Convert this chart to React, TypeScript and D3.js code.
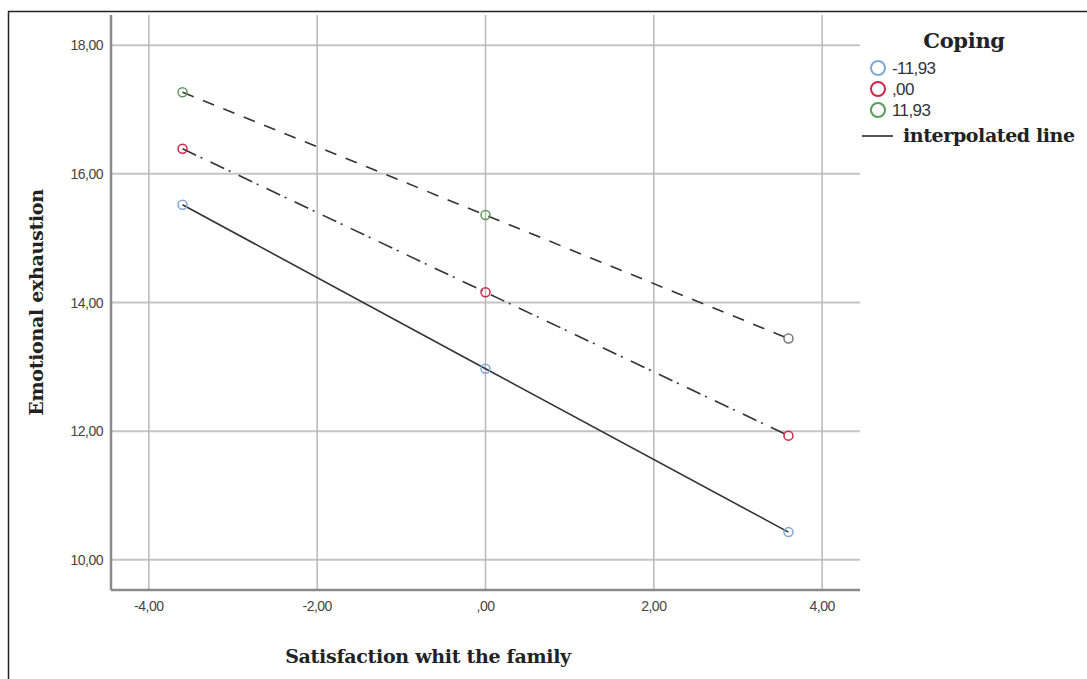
import React, { useEffect, useRef } from 'react';
import * as d3 from 'd3';

interface Series {
  label: string;
  color: string;
  dash: string;
  values: number[];
}

const xPoints = [-3.6, 0, 3.6];
const lowCoping = [15.52, 12.97, 10.43];
const meanCoping = [16.39, 14.16, 11.93];
const highCoping = [17.27, 15.36, 13.44];
const copingLabels = ['-11,93', ',00', '11,93'];
const copingColors = ['#7fa8d8', '#d0264a', '#5a9a5a'];
const xTicks = [-4, -2, 0, 2, 4];
const yTicks = [10, 12, 14, 16, 18];

const series: Series[] = [
  { label: copingLabels[0], color: copingColors[0], dash: '', values: lowCoping },
  { label: copingLabels[1], color: copingColors[1], dash: '15,5,2,9', values: meanCoping },
  { label: copingLabels[2], color: copingColors[2], dash: '12,10', values: highCoping },
];

const fmt = (v: number) => {
  if (v === 0) return ',00';
  return v.toFixed(2).replace('.', ',');
};

const SERIF = '"DejaVu Serif", "Liberation Serif", serif';
const SANS = 'Arial, "Liberation Sans", sans-serif';

export default function App() {
  const svgRef = useRef<SVGSVGElement>(null);

  useEffect(() => {
    if (!svgRef.current) return;
    const W = 1087, H = 679;
    const left = 111, right = 860, top = 15, bottom = 590;

    d3.select(svgRef.current).selectAll('*').remove();
    const svg = d3.select(svgRef.current).attr('width', W).attr('height', H);

    svg.append('rect').attr('width', W).attr('height', H).attr('fill', '#fff');

    // frame
    svg.append('line').attr('x1', 8).attr('x2', W).attr('y1', 11.5).attr('y2', 11.5)
      .attr('stroke', '#222').attr('stroke-width', 1.5);
    svg.append('line').attr('x1', 8.5).attr('x2', 8.5).attr('y1', 11).attr('y2', H)
      .attr('stroke', '#222').attr('stroke-width', 1.5);

    const x = d3.scaleLinear().domain([-4.45, 4.45]).range([left, right]);
    const y = d3.scaleLinear().domain([9.53, 18.47]).range([bottom, top]);

    // grid
    svg.append('g').selectAll('line').data(yTicks).enter().append('line')
      .attr('x1', left).attr('x2', right)
      .attr('y1', d => y(d)).attr('y2', d => y(d))
      .attr('stroke', '#c4c4c4').attr('stroke-width', 2);
    svg.append('g').selectAll('line').data(xTicks).enter().append('line')
      .attr('x1', d => x(d)).attr('x2', d => x(d))
      .attr('y1', top).attr('y2', bottom)
      .attr('stroke', '#b8b8b8').attr('stroke-width', 1.5);

    // axes
    svg.append('line').attr('x1', left).attr('x2', left).attr('y1', top).attr('y2', bottom)
      .attr('stroke', '#8a8a8a').attr('stroke-width', 2.5);
    svg.append('line').attr('x1', left).attr('x2', right).attr('y1', bottom).attr('y2', bottom)
      .attr('stroke', '#8a8a8a').attr('stroke-width', 2.5);

    // tick labels
    svg.append('g').selectAll('text').data(yTicks).enter().append('text')
      .attr('x', 103).attr('y', d => y(d) + 5)
      .attr('text-anchor', 'end')
      .attr('font-family', SANS)
      .attr('font-size', 14).attr('fill', '#444').attr('letter-spacing', -0.5)
      .text(d => fmt(d));
    svg.append('g').selectAll('text').data(xTicks).enter().append('text')
      .attr('x', d => x(d)).attr('y', bottom + 21)
      .attr('text-anchor', 'middle')
      .attr('font-family', SANS)
      .attr('font-size', 14).attr('fill', '#444').attr('letter-spacing', -0.5)
      .text(d => fmt(d));

    // axis titles
    svg.append('text')
      .attr('transform', `translate(43,${(top + bottom) / 2}) rotate(-90)`)
      .attr('text-anchor', 'middle')
      .attr('font-family', SERIF)
      .attr('font-weight', 'bold').attr('font-size', 19).attr('fill', '#222')
      .attr('letter-spacing', -0.3)
      .text('Emotional exhaustion');
    svg.append('text')
      .attr('x', 428).attr('y', 663)
      .attr('text-anchor', 'middle')
      .attr('font-family', SERIF)
      .attr('font-weight', 'bold').attr('font-size', 19).attr('fill', '#222')
      .attr('letter-spacing', -0.3)
      .text('Satisfaction whit the family');

    // lines
    const line = d3.line<[number, number]>().x(d => x(d[0])).y(d => y(d[1]));
    series.forEach(s => {
      const pts = xPoints.map((xv, i) => [xv, s.values[i]] as [number, number]);
      svg.append('path')
        .datum(pts)
        .attr('fill', 'none')
        .attr('stroke', '#333')
        .attr('stroke-width', 1.6)
        .attr('stroke-dasharray', s.dash || null)
        .attr('d', line);
    });

    // points
    series.forEach((s, si) => {
      svg.append('g').selectAll('circle')
        .data(xPoints.map((xv, i) => ({ xv, yv: s.values[i], i })))
        .enter().append('circle')
        .attr('cx', d => x(d.xv)).attr('cy', d => y(d.yv))
        .attr('r', 4.5)
        .attr('fill', 'none')
        .attr('stroke', d => (si === 2 && d.i === 2 ? '#777' : s.color))
        .attr('stroke-width', 1.5);
    });

    // legend
    const lg = svg.append('g');
    lg.append('text').attr('x', 964).attr('y', 48)
      .attr('text-anchor', 'middle')
      .attr('font-family', SERIF)
      .attr('font-weight', 'bold').attr('font-size', 21).attr('fill', '#222')
      .attr('letter-spacing', -0.3)
      .text('Coping');
    series.forEach((s, i) => {
      const cy = 68 + i * 21;
      lg.append('circle').attr('cx', 878).attr('cy', cy).attr('r', 7)
        .attr('fill', 'none').attr('stroke', s.color).attr('stroke-width', 2);
      lg.append('text').attr('x', 892).attr('y', cy + 6)
        .attr('font-family', SANS)
        .attr('font-size', 17).attr('fill', '#333').attr('letter-spacing', -0.6)
        .text(s.label);
    });
    lg.append('line').attr('x1', 862).attr('x2', 893).attr('y1', 136).attr('y2', 136)
      .attr('stroke', '#555').attr('stroke-width', 2);
    lg.append('text').attr('x', 903).attr('y', 142)
      .attr('font-family', SERIF)
      .attr('font-weight', 'bold').attr('font-size', 19).attr('fill', '#222')
      .attr('letter-spacing', -0.4)
      .text('interpolated line');
  }, []);

  return (
    <div style={{ position: 'absolute', left: 0, top: 0 }}>
      <svg ref={svgRef} style={{ display: 'block' }} />
    </div>
  );
}
